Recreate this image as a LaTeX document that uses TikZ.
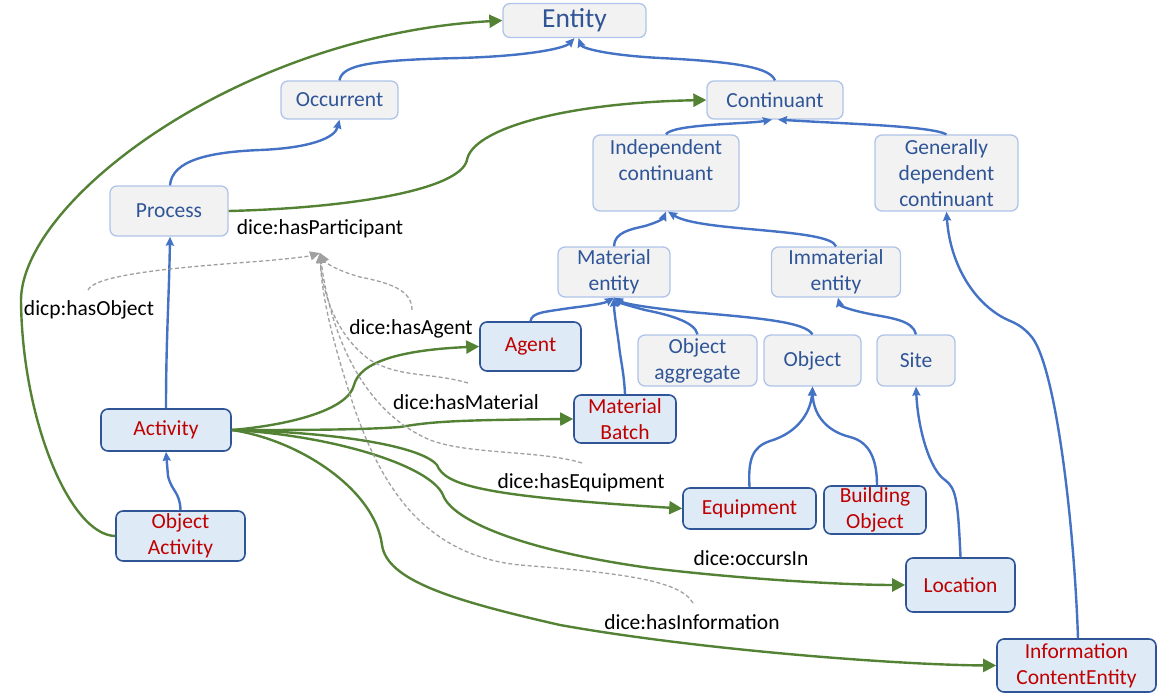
\documentclass[tikz,border=0pt]{standalone}
\usepackage{fontspec}
\setmainfont{Carlito}
\usetikzlibrary{arrows.meta}
\definecolor{clsfill}{HTML}{F2F2F2}
\definecolor{clsborder}{HTML}{AFC4E8}
\definecolor{clstext}{HTML}{2F5597}
\definecolor{domfill}{HTML}{DEEBF7}
\definecolor{domborder}{HTML}{2F5597}
\definecolor{domtext}{HTML}{C00000}
\definecolor{isablue}{HTML}{4472C4}
\definecolor{relgreen}{HTML}{548235}
\definecolor{dashgrey}{HTML}{A0A0A0}
\tikzset{
  cls/.style={draw=clsborder, fill=clsfill, rounded corners=7pt, line width=1.3pt, text=clstext,
    align=center, inner sep=0pt, font=\fontsize{21.5}{26}\selectfont},
  dom/.style={cls, draw=domborder, fill=domfill, text=domtext, line width=1.6pt},
  sz/.style 2 args={minimum width=#1pt, minimum height=#2pt},
  isa/.style={draw=isablue, line width=2.4pt, -{Stealth[length=9pt,width=8pt,inset=1pt]}},
  rel/.style={draw=relgreen, line width=2.4pt, -{Triangle[length=13pt,width=13pt]}},
  part/.style={draw=dashgrey, line width=1.3pt, dash pattern=on 4pt off 2.5pt, -{Triangle[length=10pt,width=9pt]}},
  lbl/.style={text=black, inner sep=0pt, font=\fontsize{21.5}{26}\selectfont},
}
\begin{document}
\begin{tikzpicture}[x=1pt,y=-1pt]
\path[use as bounding box] (0,0) rectangle (1176,698);

% class nodes
\node[cls, sz={143}{34}, font=\fontsize{27.5}{32}\selectfont] (entity) at (574.5,20.5) {Entity};
\node[cls, sz={117}{38}] (occ) at (339.5,100) {Occurrent};
\node[cls, sz={136}{38}] (cont) at (775,100) {Continuant};
\node[cls, sz={118}{50}] (proc) at (169,211) {Process};
\node[cls, sz={146}{76}] (indep) at (666,173) {Independent\\continuant\\\mbox{}};
\node[cls, sz={143}{76}] (gdc) at (946.5,173) {Generally\\dependent\\continuant};
\node[cls, sz={112}{50}] (me) at (614,272) {Material\\entity};
\node[cls, sz={129}{50}] (ime) at (836,272) {Immaterial\\entity};
\node[cls, sz={119}{51}] (oagg) at (697.5,360.5) {Object\\aggregate};
\node[cls, sz={97}{51}] (object) at (812.5,360.5) {Object};
\node[cls, sz={78}{51}] (site) at (916,360.5) {Site};

% domain nodes
\node[dom, sz={101}{49}] (agent) at (530.5,346.5) {Agent};
\node[dom, sz={102}{48}] (mb) at (625,419) {Material\\Batch};
\node[dom, sz={130}{42}] (act) at (166,430) {Activity};
\node[dom, sz={133}{41}] (equip) at (749.5,508.5) {Equipment};
\node[dom, sz={102}{48}] (bobj) at (875,510) {Building\\Object};
\node[dom, sz={129}{50}] (oact) at (180.5,536) {Object\\Activity};
\node[dom, sz={109}{54}] (loc) at (960.5,585) {Location};
\node[dom, sz={159}{53}] (ice) at (1076.5,665.5) {Information\\ContentEntity};

% labels
\node[lbl] (lpart) at (320,229) {dice:hasParticipant};
\node[lbl] (lobj) at (89,310) {dicp:hasObject};
\node[lbl] (lagent) at (411,329) {dice:hasAgent};
\node[lbl] (lmat) at (466,402) {dice:hasMaterial};
\node[lbl] (lequip) at (581,483) {dice:hasEquipment};
\node[lbl] (locc) at (751,558) {dice:occursIn};
\node[lbl] (linfo) at (692,622) {dice:hasInformation};

% is-a edges
\draw[isa] (occ.north) .. controls (342,65) and (370,60) .. (460,58) .. controls (530,56) and (565,48) .. (entity.south);
\draw[isa] (cont.north) .. controls (770,68) and (740,62) .. (660,58) .. controls (605,55) and (582,48) .. ([xshift=4pt]entity.south);
\draw[isa] ([xshift=1pt]proc.north) .. controls (172,160) and (210,152) .. (260,150) .. controls (310,148) and (335,138) .. (occ.south);
\draw[isa] (act.north) .. controls (166,340) and (169,300) .. ([xshift=1pt]proc.south);
\draw[isa] (oact.north) .. controls (180,492) and (172,492) .. (168,476) -- (act.south);
\draw[isa] (indep.north) .. controls (672,124) and (748,124) .. ([xshift=-3pt]cont.south);
\draw[isa] (gdc.north) .. controls (930,126) and (850,124) .. ([xshift=3pt]cont.south);
\draw[isa] (me.north) .. controls (614,232) and (632,229) .. (645,226) .. controls (658,222) and (663,219) .. (indep.south);
\draw[isa] (ime.north) .. controls (830,228) and (700,232) .. ([xshift=2pt]indep.south);
\draw[isa] (agent.north) .. controls (532,312) and (545,312) .. (570,308) .. controls (595,305) and (605,303) .. (me.south);
\draw[isa] (mb.north) .. controls (624,372) and (620,357) .. (619,345) .. controls (617,330) and (614,312) .. (me.south);
\draw[isa] (oagg.north) .. controls (695,322) and (670,315) .. (645,310) .. controls (630,306) and (620,303) .. (me.south);
\draw[isa] (object.north) .. controls (805,322) and (760,318) .. (690,312) .. controls (650,308) and (625,304) .. (me.south);
\draw[isa] (site.north) .. controls (913,320) and (890,318) .. (870,314) .. controls (850,310) and (840,306) .. ([xshift=2pt]ime.south);
\draw[isa] (equip.north) .. controls (748,460) and (752,447) .. (770,441) .. controls (800,432) and (811,410) .. (object.south);
\draw[isa] ([xshift=2pt]bobj.north) .. controls (877,460) and (870,442) .. (850,437) .. controls (822,430) and (813,410) .. (object.south);
\draw[isa] (loc.north) .. controls (958,500) and (956,488) .. (945,480) .. controls (930,470) and (918,430) .. (site.south);
\draw[isa] ([xshift=1.5pt]ice.north) .. controls (1074,520) and (1055,360) .. (1030,335) .. controls (1022,326) and (1015,323) .. (1008,320) .. controls (975,305) and (950,265) .. (gdc.south);

% relation edges
\draw[rel] (act.east) .. controls (290,425) and (348,410) .. (354,385) .. controls (360,362) and (400,350) .. (agent.west);
\draw[rel] (act.east) .. controls (300,430) and (360,430) .. (400,427) .. controls (430,422) and (450,420) .. (mb.west);
\draw[rel] (act.east) .. controls (330,432) and (420,445) .. (437,465) .. controls (445,485) and (480,496) .. (equip.west);
\draw[rel] (act.east) .. controls (330,435) and (430,465) .. (443,495) .. controls (452,520) and (520,550) .. (650,568) .. controls (750,580) and (850,585) .. (loc.west);
\draw[rel] (act.east) .. controls (300,440) and (375,490) .. (382,545) .. controls (387,580) and (450,600) .. (560,625) .. controls (700,650) and (900,665) .. (ice.west);
\draw[rel] (proc.east) .. controls (350,208) and (460,190) .. (467,160) .. controls (472,130) and (560,103) .. (cont.west);
\draw[rel] (oact.west) .. controls (70,535) and (22,420) .. (21,300) .. controls (22,200) and (240,35) .. (entity.west);

% participant (dashed) edges
\coordinate (hp) at (320,253);
\coordinate (d1) at (88,290);
\coordinate (d2) at (412,310);
\coordinate (d3) at (468,383);
\coordinate (d4) at (582,463);
\coordinate (d5) at (693,603);
\draw[part] (d1) .. controls (95,275) and (170,268) .. (250,262) .. controls (290,259) and (310,256) .. (hp);
\draw[part] (d2) .. controls (412,290) and (390,283) .. (360,277) .. controls (335,270) and (325,262) .. (hp);
\draw[part] (d3) .. controls (430,372) and (400,378) .. (370,360) .. controls (335,335) and (322,290) .. (hp);
\draw[part] (d4) .. controls (540,450) and (470,455) .. (430,440) .. controls (360,410) and (330,330) .. (hp);
\draw[part] (d5) .. controls (680,580) and (620,573) .. (520,565) .. controls (420,555) and (380,480) .. (355,410) .. controls (335,350) and (322,300) .. (hp);
\end{tikzpicture}
\end{document}
